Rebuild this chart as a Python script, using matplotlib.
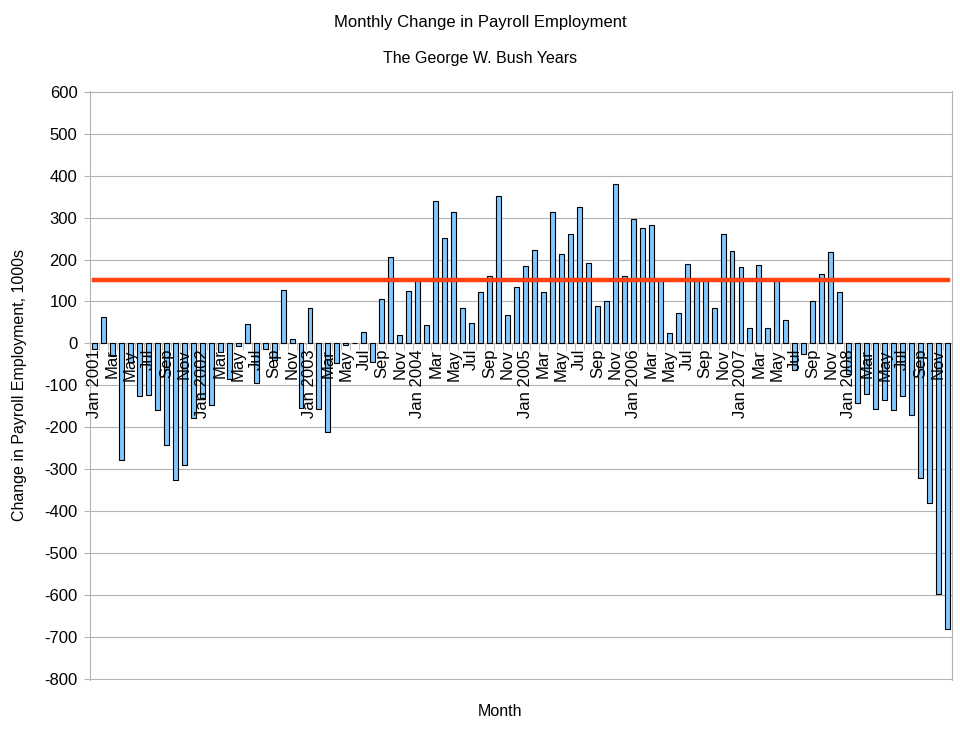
import matplotlib
matplotlib.use("Agg")
import matplotlib.pyplot as plt
import numpy as np

plt.rcParams['font.family'] = ['Liberation Sans', 'DejaVu Sans']
plt.rcParams['axes.unicode_minus'] = False

# monthly change in payroll employment, 1000s, Jan 2001 .. Dec 2008
years = [2001, 2002, 2003, 2004, 2005, 2006, 2007, 2008]
month_names = ["Jan", "Feb", "Mar", "Apr", "May", "Jun",
               "Jul", "Aug", "Sep", "Oct", "Nov", "Dec"]
change = [
    -14, 62, -30, -279, -45, -126, -124, -158, -243, -325, -290, -178,   # 2001
    -130, -146, -20, -86, -6, 46, -95, -14, -40, 127, 10, -155,          # 2002
    84, -157, -212, -46, -5, 1, 26, -44, 105, 205, 19, 124,              # 2003
    150, 43, 339, 251, 313, 84, 48, 122, 160, 351, 67, 134,              # 2004
    184, 222, 122, 313, 212, 260, 325, 191, 88, 100, 380, 160,           # 2005
    296, 274, 282, 151, 24, 72, 189, 153, 152, 84, 262, 220,             # 2006
    181, 36, 186, 36, 152, 55, -64, -26, 100, 165, 217, 122,             # 2007
    -72, -143, -121, -157, -135, -160, -126, -171, -321, -380, -597, -681,  # 2008
]
reference_level = 150

labels = []
for y in years:
    for m, name in enumerate(month_names):
        if m == 0:
            labels.append("%s %d" % (name, y))
        elif m % 2 == 0:
            labels.append(name)
        else:
            labels.append("")

grey = "#b3b3b3"
x = np.arange(len(change))

fig = plt.figure(figsize=(9.6, 7.35), dpi=100)
ax = fig.add_axes([90 / 960, 1 - 679.5 / 735, 862 / 960, 588.5 / 735])

ax.bar(x, change, width=0.55, color="#80c8ff", edgecolor="black", linewidth=0.8, zorder=2)
ax.plot([x[0], x[-1]], [reference_level, reference_level], color="#ff420e", linewidth=3.2, zorder=3)

ax.set_xlim(-0.5, len(change) - 0.5)
ax.set_ylim(-802, 602)
ax.set_yticks(np.arange(-800, 601, 100))
ax.yaxis.grid(True, color=grey, linewidth=0.8)
ax.set_axisbelow(True)
# month labels sit on top of the bars, as in the original
ax.xaxis.set_zorder(4)

ax.spines['top'].set_visible(False)
ax.spines['left'].set_color(grey)
ax.spines['right'].set_color(grey)
ax.spines['bottom'].set_position(('data', 0))
ax.spines['bottom'].set_color(grey)
ax.spines['bottom'].set_zorder(1)

show = [i for i in range(len(labels)) if labels[i] != ""]
ax.set_xticks(show)
ax.set_xticklabels([labels[i] for i in show], rotation=90, va="top", ha="center", fontsize=12)
ax.set_xticks(np.arange(-0.5, len(change), 1.0), minor=True)
ax.tick_params(axis="x", which="major", length=0, pad=4)
ax.tick_params(axis="x", which="minor", length=5, color=grey, direction="out")
ax.tick_params(axis="y", length=4, color=grey, labelsize=12, pad=5)

fig.text(0.5, 1 - 23 / 735, "Monthly Change in Payroll Employment", ha="center", va="center", fontsize=12)
fig.text(0.5, 1 - 58 / 735, "The George W. Bush Years", ha="center", va="center", fontsize=11.5)
fig.text(500 / 960, 1 - 712 / 735, "Month", ha="center", va="center", fontsize=11.5)
fig.text(20 / 960, 1 - 385 / 735, "Change in Payroll Employment, 1000s", ha="center", va="center",
         rotation=90, fontsize=11.5)

fig.savefig("out.png", dpi=100)
